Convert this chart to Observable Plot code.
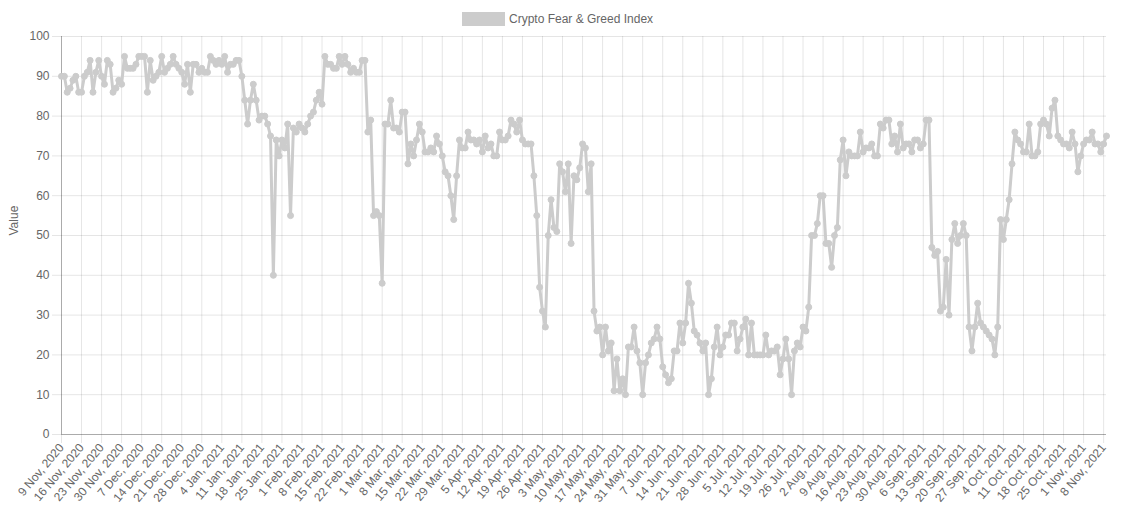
<!DOCTYPE html>
<html>
<head>
<meta charset="utf-8">
<script src="https://cdn.jsdelivr.net/npm/d3@7"></script>
<script src="https://cdn.jsdelivr.net/npm/@observablehq/plot@0.6"></script>
<style>
  html, body { margin: 0; padding: 0; background: #fff; }
  #wrap { position: relative; width: 1128px; height: 510px; font-family: "Helvetica Neue", Helvetica, Arial, "Liberation Sans", sans-serif; }
  #legend { position: absolute; top: 12px; left: 462px; display: flex; align-items: center; font-size: 12px; color: #666; white-space: nowrap; }
  #legend .box { width: 41px; height: 12px; background: #cccccc; border: 1px solid #cccccc; margin-right: 4px; }
  #chart { position: absolute; left: 0; top: 0; }
</style>
</head>
<body>
<div id="wrap">
  <div id="chart"></div>
  <div id="legend"><span class="box"></span><span id="legendLabel"></span></div>
</div>
<script>
// ---- Data ----
const seriesName = "Crypto Fear & Greed Index";
const yLabel = "Value";
const startDay = "2020-11-09";   // first daily observation
const fgValues = [
  // 9 Nov 2020 ->
  90, 90, 86, 87, 89, 90, 86, 86, 90, 91, 94, 86, 91, 94, 90, 88, 94, 93, 86, 87,
  89, 88, 95, 92, 92, 92, 93, 95, 95, 95, 86, 94, 89, 90, 91, 95, 91,
  92, 93, 95, 93, 92, 91, 88, 93, 86, 93, 93, 91, 92, 91, 91, 95, 94, 93, 94, 93,
  95, 91, 93, 93, 94, 94, 90, 84, 78, 84, 88, 84, 79, 80, 80, 78, 75,
  40, 74, 70, 74, 72, 78, 55, 77, 76, 78, 77, 76, 78, 80, 81, 84, 86, 83, 95, 93,
  93, 92, 92, 95, 93, 95, 93, 91, 92, 91, 91, 94, 94, 76, 79, 55, 56, 55, 38,
  78, 78, 84, 77, 77, 76, 81, 81, 68, 73, 70, 74, 78, 76, 71, 71, 72, 71, 75, 73,
  70, 66, 65, 60, 54, 65, 74, 72, 72, 76, 74, 74, 73,
  74, 71, 75, 72, 73, 70, 70, 76, 74, 74, 75, 79, 78, 76, 79, 74, 73, 73, 73, 65,
  55, 37, 31, 27, 50, 59, 52, 51, 68, 66, 61, 68, 48, 65, 64, 67, 73, 72, 61, 68,
  31, 26, 27, 20, 27, 21, 23, 11, 19, 11, 14, 10, 22, 22, 27, 21, 18, 10, 18, 20,
  23, 24, 27, 24, 17, 15, 13, 14, 21, 21, 28, 23, 28, 38,
  33, 26, 25, 23, 21, 23, 10, 14, 22, 27, 20, 22, 25, 25, 28, 28, 21, 24, 27, 29,
  20, 28, 20, 20, 20, 20, 25, 20, 21, 21, 22, 15, 19, 24, 19, 10, 21, 23,
  22, 27, 26, 32, 50, 50, 53, 60, 60, 48, 48, 42, 50, 52, 69, 74, 65, 71, 70, 70,
  70, 76, 71, 72, 72, 73, 70, 70, 78, 77, 79, 79, 73, 75, 71, 78,
  72, 73, 73, 71, 74, 74, 72, 73, 79, 79, 47, 45, 46, 31, 32, 44, 30, 49, 53, 48,
  50, 53, 50, 27, 21, 27, 33, 28, 27, 26, 25, 24, 20, 27, 54, 49, 54,
  59, 68, 76, 74, 73, 71, 71, 78, 70, 70, 71, 78, 79, 78, 75, 82, 84, 75, 74, 73,
  73, 72, 76, 73, 66, 70, 73, 74, 74, 76, 73, 73, 71, 73, 75
];
const yTicks = [0, 10, 20, 30, 40, 50, 60, 70, 80, 90, 100];
const xTickFormat = "%-d %b, %Y";   // weekly (Monday) tick labels, e.g. "9 Nov, 2020"

// ---- Build ----
const start = d3.utcParse("%Y-%m-%d")(startDay);
const data = fgValues.map((v, i) => ({ date: d3.utcDay.offset(start, i), value: v }));
const end = data[data.length - 1].date;
const weekTicks = d3.utcMonday.range(start, d3.utcDay.offset(end, 1));

document.getElementById("legendLabel").textContent = seriesName;

const gridStroke = { stroke: "#000", strokeOpacity: 0.1 };
const chart = Plot.plot({
  width: 1128,
  height: 510,
  marginTop: 36,
  marginRight: 22,
  marginBottom: 76,
  marginLeft: 61,
  style: { fontFamily: "'Helvetica Neue', Helvetica, Arial, 'Liberation Sans', sans-serif", fontSize: "12px", color: "#666", background: "transparent", overflow: "visible" },
  x: { type: "utc", domain: [start, end] },
  y: { domain: [0, 100] },
  marks: [
    Plot.gridY(yTicks, gridStroke),
    Plot.gridX(weekTicks, gridStroke),
    Plot.axisY(yTicks, { tickSize: 9, tickPadding: 3, ...gridStroke, fill: "#666", label: null }),
    Plot.axisX(weekTicks, { tickSize: 9, tickPadding: 2, tickRotate: -50, tickFormat: d3.utcFormat(xTickFormat), ...gridStroke, fill: "#666", label: null }),
    Plot.ruleY([0], { stroke: "#000", strokeOpacity: 0.25 }),
    Plot.ruleX([start], { stroke: "#000", strokeOpacity: 0.25 }),
    Plot.text([yLabel], { frameAnchor: "left", rotate: -90, dx: -47, fill: "#666", fontSize: 12 }),
    Plot.line(data, { x: "date", y: "value", stroke: "#cccccc", strokeWidth: 3, strokeLinejoin: "round" }),
    Plot.dot(data, { x: "date", y: "value", r: 3, fill: "#cccccc", stroke: "#cccccc", strokeWidth: 1 })
  ]
});
document.getElementById("chart").appendChild(chart);
</script>
</body>
</html>
